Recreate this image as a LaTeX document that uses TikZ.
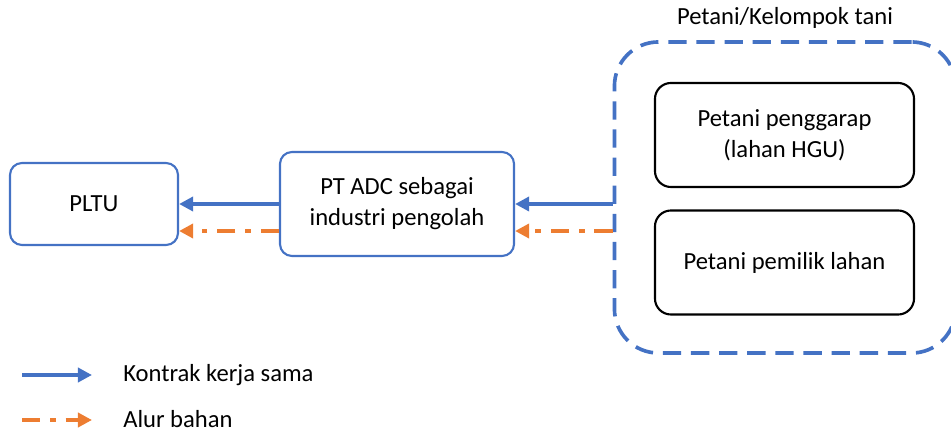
\documentclass[tikz,border=0pt]{standalone}
\usepackage{fontspec}
\setmainfont{Carlito}
\usetikzlibrary{arrows.meta}
\definecolor{kontrak}{HTML}{4472C4}
\definecolor{bahan}{HTML}{ED7D31}
\tikzset{
    teks/.style={font=\fontsize{17.5}{22}\selectfont},
    pihak/.style={teks, draw=kontrak, line width=1.5pt, rounded corners=0.3cm, align=center, inner sep=0pt},
    petani/.style={teks, draw=black, line width=1.5pt, rounded corners=0.4cm, align=center, inner sep=0pt, minimum width=6.475cm, minimum height=2.6cm},
    alurkontrak/.style={draw=kontrak, line width=2.6pt, -{Triangle[length=10pt,width=10pt]}},
    alurbahan/.style={draw=bahan, line width=2.6pt, dash pattern=on 13pt off 7pt on 4pt off 7pt, -{Triangle[length=10pt,width=10pt]}}
}
\begin{document}
\begin{tikzpicture}[x=0.025cm, y=-0.025cm]
    \useasboundingbox (0,0) rectangle (951,431);
    \clip (0,0) rectangle (951,431);

    % Kelompok tani
    \node[draw=kontrak, line width=2.6pt, dash pattern=on 13pt off 7pt, rounded corners=1.1cm,
          minimum width=8.525cm, minimum height=7.775cm, inner sep=0pt] (kelompok) at (785,197.5) {};
    \node[teks] (judul) at (785,18) {Petani/Kelompok tani};
    \node[petani] (penggarap) at (784.5,135) {Petani penggarap\\(lahan HGU)};
    \node[petani] (pemilik) at (784.5,262.5) {Petani pemilik lahan};

    % Industri dan PLTU
    \node[pihak, minimum width=5.85cm, minimum height=2.6cm] (adc) at (397,204) {PT ADC sebagai\\industri pengolah};
    \node[pihak, minimum width=4.2cm, minimum height=2.05cm] (pltu) at (94,204) {PLTU};

    % Alur
    \draw[alurkontrak] (kelompok.west |- adc.center) -- (adc.east);
    \draw[alurbahan] ([yshift=-0.675cm]kelompok.west |- adc.center) -- ([yshift=-0.675cm]adc.east);
    \draw[alurkontrak] (adc.west) -- (pltu.east);
    \draw[alurbahan] ([yshift=-0.675cm]adc.west) -- ([yshift=-0.675cm]pltu.east);

    % Legenda
    \coordinate (k1) at (22,375);
    \coordinate (k2) at (92,375);
    \coordinate (b1) at (22,420);
    \coordinate (b2) at (92,420);
    \draw[alurkontrak] (k1) -- (k2);
    \draw[alurbahan] (b1) -- (b2);
    \node[teks, anchor=west, inner sep=0pt] (lkontrak) at (123,375) {Kontrak kerja sama};
    \node[teks, anchor=west, inner sep=0pt] (lbahan) at (123,419) {Alur bahan};
\end{tikzpicture}
\end{document}
